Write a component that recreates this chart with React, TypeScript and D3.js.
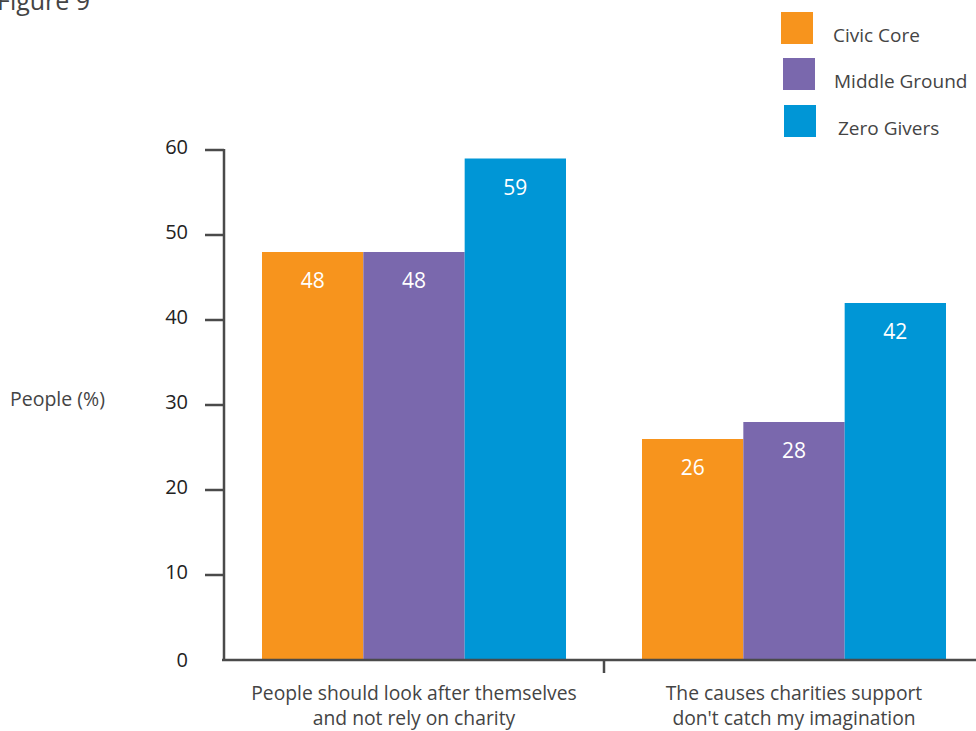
import React from "react";
import * as d3 from "d3";

const categories = [
  ["People should look after themselves", "and not rely on charity"],
  ["The causes charities support", "don't catch my imagination"],
];
const seriesNames = ["Civic Core", "Middle Ground", "Zero Givers"];
const seriesColors = ["#F7941D", "#7A68AD", "#0096D6"];
const civicCore = [48, 26];
const middleGround = [48, 28];
const zeroGivers = [59, 42];
const yTicks = [0, 10, 20, 30, 40, 50, 60];

const values = [civicCore, middleGround, zeroGivers];

const W = 976;
const H = 731;
const axisColor = "#4a4a4a";
const textColor = "#444";
const font = "'Open Sans', 'DejaVu Sans', sans-serif";

export default function App() {
  const y = d3.scaleLinear().domain([0, 60]).range([660, 150]);
  const groupIdx = categories.map((_, i) => String(i));
  const xOuter = d3.scaleBand().domain(groupIdx).range([224, 984]).padding(0);
  const xGroup = d3
    .scaleBand()
    .domain(groupIdx)
    .range([224, 984])
    .paddingInner(0.2)
    .paddingOuter(0.1);
  const xSeries = d3
    .scaleBand()
    .domain(seriesNames)
    .range([0, xGroup.bandwidth()])
    .padding(0);

  return (
    <svg
      width={W}
      height={H}
      style={{ position: "absolute", left: 0, top: 0, background: "#fff" }}
      fontFamily={font}
    >
      <text x={-3} y={10} fontSize={25} fill={textColor}>
        Figure 9
      </text>

      {/* legend */}
      {seriesNames.map((name, i) => {
        const ys = [12, 58, 105];
        const xs = [781, 783, 784];
        const tx = [833, 834, 838];
        return (
          <g key={name}>
            <rect x={xs[i]} y={ys[i]} width={32} height={32} fill={seriesColors[i]} />
            <text
              x={tx[i]}
              y={ys[i] + 23}
              dy="0.35em"
              fontSize={19}
              fill={textColor}
            >
              {name}
            </text>
          </g>
        );
      })}

      {/* bars */}
      {categories.map((_, ci) => (
        <g key={ci} transform={`translate(${xGroup(String(ci))},0)`}>
          {seriesNames.map((s, si) => {
            const v = values[si][ci];
            const bx = xSeries(s)!;
            return (
              <g key={s}>
                <rect
                  x={bx}
                  y={y(v)}
                  width={xSeries.bandwidth()}
                  height={y(0) - y(v)}
                  fill={seriesColors[si]}
                />
                <text
                  x={bx + xSeries.bandwidth() / 2}
                  y={y(v) + 29}
                  dy="0.35em"
                  textAnchor="middle"
                  fontSize={21}
                  fill="#fff"
                >
                  {v}
                </text>
              </g>
            );
          })}
        </g>
      ))}

      {/* y axis */}
      <line x1={224} x2={224} y1={y(60) - 1} y2={y(0)} stroke={axisColor} strokeWidth={2.5} />
      {yTicks.map((t) => (
        <g key={t}>
          {t > 0 && (
            <line x1={205} x2={224} y1={y(t)} y2={y(t)} stroke={axisColor} strokeWidth={2.5} />
          )}
          <text
            x={188}
            y={y(t) - (t > 0 ? 3 : 0)}
            dy="0.35em"
            textAnchor="end"
            fontSize={20}
            fill="#222"
          >
            {t}
          </text>
        </g>
      ))}
      <text x={10} y={399} dy="0.35em" fontSize={19.5} fill={textColor}>
        People (%)
      </text>

      {/* x axis */}
      <line x1={222} x2={W} y1={y(0)} y2={y(0)} stroke={axisColor} strokeWidth={2.5} />
      <line
        x1={xOuter("1")}
        x2={xOuter("1")}
        y1={y(0)}
        y2={y(0) + 13}
        stroke={axisColor}
        strokeWidth={2.5}
      />
      {categories.map((lines, ci) => (
        <text
          key={ci}
          x={xOuter(String(ci))! + xOuter.bandwidth() / 2}
          y={700}
          textAnchor="middle"
          fontSize={19.3}
          fill={textColor}
        >
          {lines.map((l, li) => (
            <tspan key={li} x={xOuter(String(ci))! + xOuter.bandwidth() / 2} dy={li === 0 ? 0 : 25}>
              {l}
            </tspan>
          ))}
        </text>
      ))}
    </svg>
  );
}
